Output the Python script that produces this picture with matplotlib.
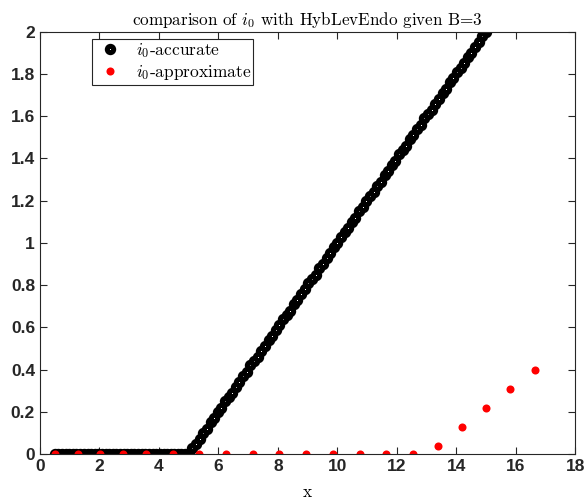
import matplotlib
matplotlib.use('Agg')
import matplotlib.pyplot as plt

plt.rcParams['mathtext.fontset'] = 'cm'
plt.rcParams['font.family'] = 'Liberation Sans'

# accurate i0 over the fine grid
x_acc = [0.50, 0.62, 0.74, 0.87, 0.99, 1.11, 1.23, 1.35, 1.47, 1.60,
         1.72, 1.84, 1.96, 2.08, 2.21, 2.33, 2.45, 2.57, 2.69, 2.82,
         2.94, 3.06, 3.18, 3.30, 3.42, 3.55, 3.67, 3.79, 3.91, 4.03,
         4.16, 4.28, 4.40, 4.52, 4.64, 4.76, 4.89, 5.01, 5.13, 5.25,
         5.37, 5.50, 5.62, 5.74, 5.86, 5.98, 6.10, 6.23, 6.35, 6.47,
         6.59, 6.71, 6.84, 6.96, 7.08, 7.20, 7.32, 7.45, 7.57, 7.69,
         7.81, 7.93, 8.05, 8.18, 8.30, 8.42, 8.54, 8.66, 8.79, 8.91,
         9.03, 9.15, 9.27, 9.39, 9.52, 9.64, 9.76, 9.88, 10.00, 10.13,
         10.25, 10.37, 10.49, 10.61, 10.74, 10.86, 10.98, 11.10, 11.22, 11.34,
         11.47, 11.59, 11.71, 11.83, 11.95, 12.08, 12.20, 12.32, 12.44, 12.56,
         12.68, 12.81, 12.93, 13.05, 13.17, 13.29, 13.42, 13.54, 13.66, 13.78,
         13.90, 14.03, 14.15, 14.27, 14.39, 14.51, 14.63, 14.76, 14.88, 15.00]
y_acc = [0.00, 0.00, 0.00, 0.00, 0.00, 0.00, 0.00, 0.00, 0.00, 0.00,
         0.00, 0.00, 0.00, 0.00, 0.00, 0.00, 0.00, 0.00, 0.00, 0.00,
         0.00, 0.00, 0.00, 0.00, 0.00, 0.00, 0.00, 0.00, 0.00, 0.00,
         0.00, 0.00, 0.00, 0.00, 0.00, 0.00, 0.00, 0.00, 0.03, 0.05,
         0.07, 0.10, 0.12, 0.15, 0.17, 0.20, 0.22, 0.25, 0.27, 0.29,
         0.32, 0.34, 0.37, 0.39, 0.42, 0.44, 0.46, 0.49, 0.51, 0.54,
         0.56, 0.59, 0.61, 0.64, 0.66, 0.68, 0.71, 0.73, 0.76, 0.78,
         0.81, 0.83, 0.85, 0.88, 0.90, 0.93, 0.95, 0.98, 1.00, 1.03,
         1.05, 1.07, 1.10, 1.12, 1.15, 1.17, 1.20, 1.22, 1.24, 1.27,
         1.29, 1.32, 1.34, 1.37, 1.39, 1.42, 1.44, 1.46, 1.49, 1.51,
         1.54, 1.56, 1.59, 1.61, 1.63, 1.66, 1.68, 1.71, 1.73, 1.76,
         1.78, 1.81, 1.83, 1.85, 1.88, 1.90, 1.93, 1.95, 1.98, 2.00]

# approximate i0 on the coarse grid
x_apx = [0.50, 1.28, 2.03, 2.81, 3.57, 4.46, 5.36, 6.26, 7.15, 8.05,
         8.96, 9.85, 10.75, 11.64, 12.54, 13.38, 14.19, 15.01, 15.82, 16.63]
y_apx = [0, 0, 0, 0, 0, 0, 0, 0, 0, 0,
         0, 0, 0, 0, 0, 0.04, 0.13, 0.22, 0.31, 0.40]

x_ticks = [0, 2, 4, 6, 8, 10, 12, 14, 16, 18]
y_ticks = [0, 0.2, 0.4, 0.6, 0.8, 1, 1.2, 1.4, 1.6, 1.8, 2]

fig = plt.figure(figsize=(5.87, 5.04), dpi=100)
ax = fig.add_axes([0.068, 0.099, 0.912, 0.838])

ax.plot(x_acc, y_acc, 'o', color='k', mfc='white', ms=4.6, mew=3.6,
        label=r'$i_0\text{-accurate}$')
ax.plot(x_apx, y_apx, 'o', color='r', ms=5.8, mew=0,
        label=r'$i_0\text{-approximate}$')

ax.set_xlim(0, 18)
ax.set_ylim(0, 2)
ax.set_xticks(x_ticks)
ax.set_yticks(y_ticks)
ax.set_xticklabels([str(t) for t in x_ticks])
ax.set_yticklabels(['0', '0.2', '0.4', '0.6', '0.8', '1', '1.2', '1.4', '1.6', '1.8', '2'])

gray = '#262626'
for s in ax.spines.values():
    s.set_color(gray)
    s.set_linewidth(0.8)
ax.tick_params(direction='in', top=True, right=True, length=5, width=0.8,
               color=gray, labelcolor=gray, labelsize=12.5)
for lbl in ax.get_xticklabels() + ax.get_yticklabels():
    lbl.set_fontweight('bold')

ax.set_title(r'$\text{comparison of }i_0\text{ with HybLevEndo given B=3}$',
             fontsize=12.3, pad=5)
ax.set_xlabel(r'$\text{x}$', fontsize=12.5, labelpad=8)

leg = ax.legend(loc='upper left', bbox_to_anchor=(0.097, 0.983), borderaxespad=0,
                fontsize=12.5, fancybox=False, framealpha=1, edgecolor=gray,
                borderpad=0.12, handletextpad=0.6, labelspacing=0.2,
                handlelength=1.8)
leg.get_frame().set_linewidth(0.8)

fig.savefig('out.png', dpi=100)
